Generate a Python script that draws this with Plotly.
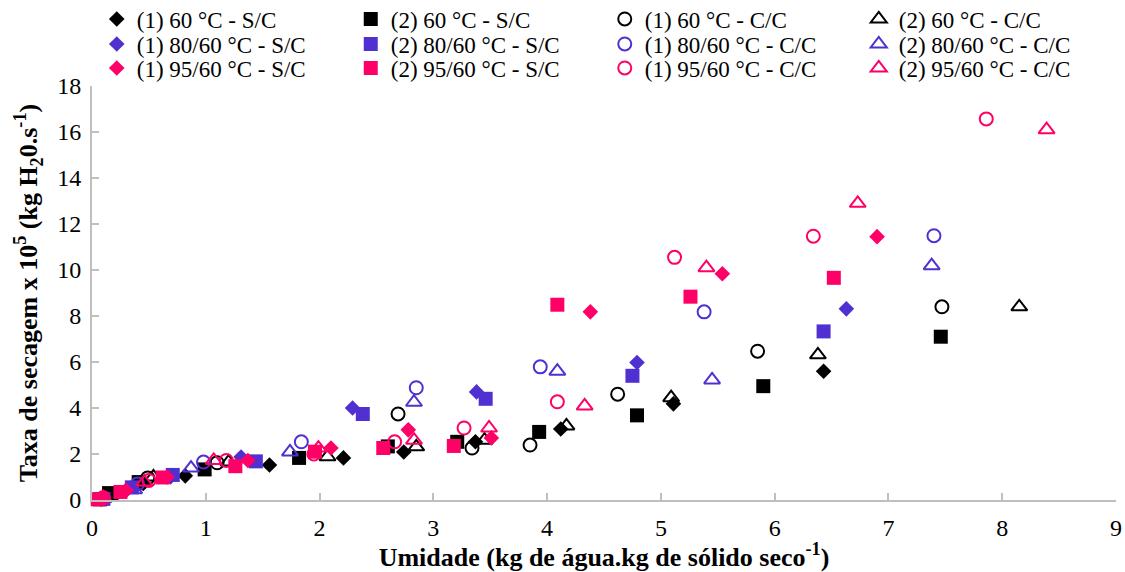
import plotly.graph_objects as go

# ---- data ----
names = [
    "(1) 60 °C - S/C", "(2) 60 °C - S/C", "(1) 60 °C - C/C", "(2) 60 °C - C/C",
    "(1) 80/60 °C - S/C", "(2) 80/60 °C - S/C", "(1) 80/60 °C - C/C", "(2) 80/60 °C - C/C",
    "(1) 95/60 °C - S/C", "(2) 95/60 °C - S/C", "(1) 95/60 °C - C/C", "(2) 95/60 °C - C/C",
]

x_60_1_sc = [0.08, 0.22, 0.45, 0.82, 1.56, 2.21, 2.74, 3.37, 4.12, 5.11, 6.43]
y_60_1_sc = [0.05, 0.30, 0.72, 1.05, 1.52, 1.83, 2.09, 2.53, 3.09, 4.18, 5.60]
x_60_2_sc = [0.07, 0.15, 0.41, 0.99, 1.82, 2.60, 3.21, 3.93, 4.79, 5.90, 7.46]
y_60_2_sc = [0.03, 0.30, 0.78, 1.33, 1.83, 2.33, 2.53, 2.96, 3.68, 4.95, 7.10]
x_60_1_cc = [0.10, 0.49, 1.10, 2.69, 3.34, 3.85, 4.62, 5.85, 7.47]
y_60_1_cc = [0.08, 0.96, 1.62, 3.74, 2.26, 2.39, 4.60, 6.47, 8.40]
x_60_2_cc = [0.10, 0.54, 1.20, 2.07, 2.85, 3.45, 4.17, 5.09, 6.38, 8.15]
y_60_2_cc = [0.08, 1.00, 1.65, 1.88, 2.31, 2.60, 3.22, 4.45, 6.31, 8.40]

x_80_1_sc = [0.08, 0.30, 0.69, 1.31, 2.29, 3.38, 4.79, 6.63]
y_80_1_sc = [0.05, 0.42, 1.00, 1.87, 4.00, 4.70, 5.98, 8.31]
x_80_2_sc = [0.10, 0.35, 0.71, 1.44, 2.38, 3.46, 4.75, 6.43]
y_80_2_sc = [0.05, 0.55, 1.09, 1.68, 3.74, 4.40, 5.40, 7.33]
x_80_1_cc = [0.10, 0.40, 0.98, 1.84, 2.85, 3.94, 5.38, 7.40]
y_80_1_cc = [0.08, 0.70, 1.65, 2.53, 4.88, 5.79, 8.18, 11.49]
x_80_2_cc = [0.10, 0.37, 0.87, 1.74, 2.83, 4.09, 5.45, 7.38]
y_80_2_cc = [0.08, 0.45, 1.39, 2.09, 4.25, 5.60, 5.22, 10.19]

x_95_1_sc = [0.08, 0.30, 0.66, 1.37, 2.10, 2.78, 3.51, 4.38, 5.54, 6.90]
y_95_1_sc = [0.08, 0.42, 1.00, 1.72, 2.26, 3.05, 2.70, 8.18, 9.84, 11.45]
x_95_2_sc = [0.05, 0.25, 0.62, 1.26, 1.96, 2.56, 3.18, 4.09, 5.26, 6.52]
y_95_2_sc = [0.03, 0.35, 0.98, 1.47, 2.10, 2.26, 2.35, 8.49, 8.84, 9.66]
x_95_1_cc = [0.10, 0.50, 1.18, 1.95, 2.66, 3.27, 4.09, 5.12, 6.34, 7.86]
y_95_1_cc = [0.10, 0.85, 1.72, 2.00, 2.53, 3.13, 4.27, 10.55, 11.47, 16.57]
x_95_2_cc = [0.10, 0.46, 1.07, 1.99, 2.83, 3.49, 4.33, 5.40, 6.73, 8.39]
y_95_2_cc = [0.10, 0.78, 1.72, 2.26, 2.60, 3.13, 4.09, 10.10, 12.90, 16.10]

xs = [x_60_1_sc, x_60_2_sc, x_60_1_cc, x_60_2_cc,
      x_80_1_sc, x_80_2_sc, x_80_1_cc, x_80_2_cc,
      x_95_1_sc, x_95_2_sc, x_95_1_cc, x_95_2_cc]
ys = [y_60_1_sc, y_60_2_sc, y_60_1_cc, y_60_2_cc,
      y_80_1_sc, y_80_2_sc, y_80_1_cc, y_80_2_cc,
      y_95_1_sc, y_95_2_sc, y_95_1_cc, y_95_2_cc]

# ---- styles ----
BLACK = "#000000"
PURPLE = "#5030D0"
PINK = "#FF0066"
colors = [BLACK] * 4 + [PURPLE] * 4 + [PINK] * 4
symbols = ["diamond", "square", "circle-open", "triangle-up-open"] * 3
sizes = {"diamond": 12, "square": 14, "circle-open": 13, "triangle-up-open": 14}
legend_ids = ["legend"] * 4 + ["legend2"] * 4 + ["legend3"] * 4

FONT = "Times New Roman, Liberation Serif, Times, serif"

fig = go.Figure()
for name, x, y, c, s, lg in zip(names, xs, ys, colors, symbols, legend_ids):
    fig.add_trace(go.Scatter(
        x=x, y=y, mode="markers", name=name, cliponaxis=False, legend=lg,
        marker=dict(symbol=s, size=sizes[s], color=c,
                    line=dict(color=c, width=2 if "open" in s else 0)),
    ))


def legend_row(ypix):
    return dict(
        orientation="h", xref="container", yref="container",
        x=0.086, y=1 - ypix / 572, xanchor="left", yanchor="middle",
        entrywidth=209, entrywidthmode="pixels",
        font=dict(family=FONT, size=23, color="black"),
        bgcolor="rgba(0,0,0,0)", borderwidth=0,
    )


axis_color = "#BFBFBF"
fig.update_layout(
    width=1125, height=572,
    paper_bgcolor="white", plot_bgcolor="white",
    margin=dict(l=92, r=9, t=86, b=72, autoexpand=False),
    font=dict(family=FONT, size=23, color="black"),
    showlegend=True,
    legend=legend_row(19),
    legend2=legend_row(44),
    legend3=legend_row(68),
    xaxis=dict(
        range=[0, 9], dtick=1, tick0=0,
        showline=True, linecolor=axis_color, linewidth=2,
        ticks="inside", ticklen=7, tickcolor=axis_color, tickwidth=2,
        showgrid=False, zeroline=False, ticklabelstandoff=5,
        tickfont=dict(family=FONT, size=24, color="black"),
        title=dict(text="Umidade (kg de água.kg de sólido seco<sup>-1</sup>)",
                   font=dict(family=FONT, size=26, color="black", weight="bold"),
                   standoff=1),
    ),
    yaxis=dict(
        range=[0, 18], dtick=2, tick0=0,
        showline=True, linecolor=axis_color, linewidth=2,
        ticks="inside", ticklen=7, tickcolor=axis_color, tickwidth=2,
        showgrid=False, zeroline=False, ticklabelstandoff=4,
        tickfont=dict(family=FONT, size=24, color="black"),
        title=dict(text="Taxa de secagem x 10<sup>5</sup> (kg H<sub>2</sub>0.s<sup>-1</sup>)",
                   font=dict(family=FONT, size=26, color="black", weight="bold"),
                   standoff=12),
    ),
)

fig.write_html("out.html")
